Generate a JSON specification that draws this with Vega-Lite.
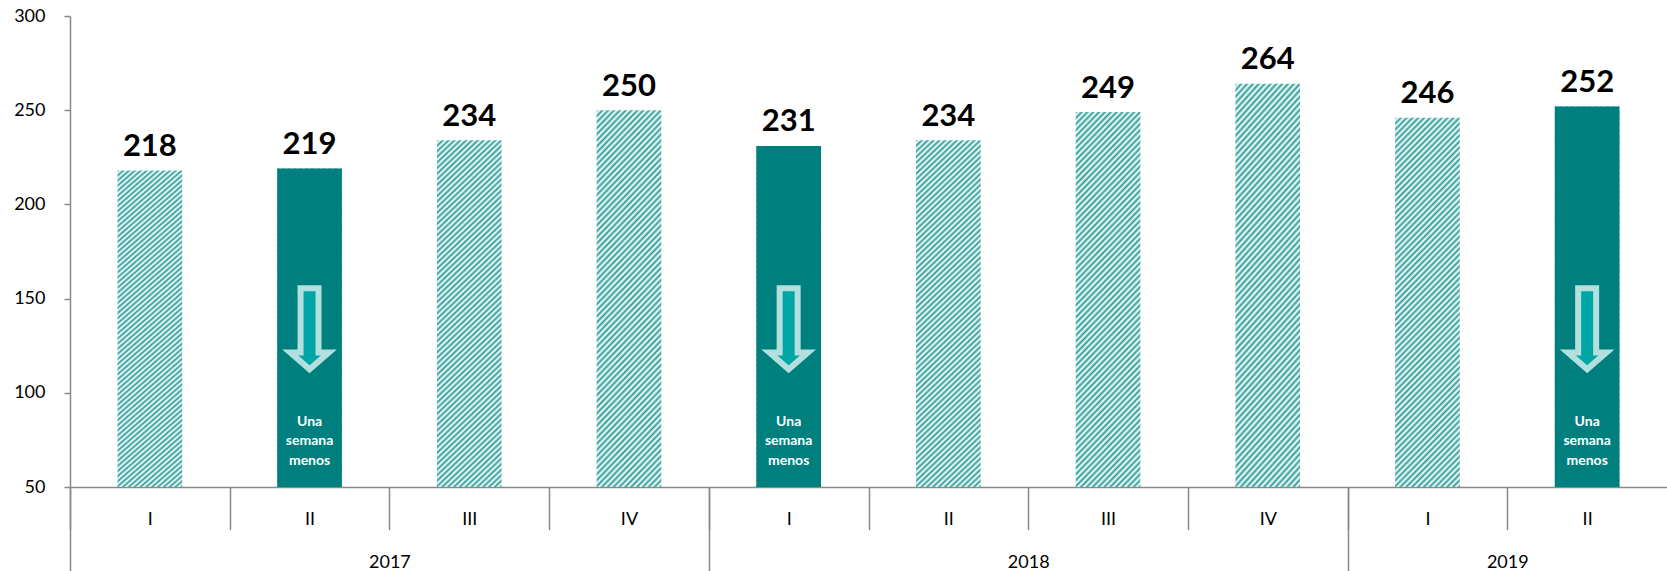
{
  "$schema": "https://vega.github.io/schema/vega-lite/v6.json",
  "width": 1597,
  "height": 471,
  "autosize": {"type": "none"},
  "padding": {"left": 70, "top": 16, "right": 0, "bottom": 84},
  "background": "#ffffff",
  "config": {
    "view": {"stroke": null},
    "font": "Lato",
    "axis": {
      "domainColor": "#898989",
      "tickColor": "#898989",
      "domainWidth": 1.5,
      "tickWidth": 1.5,
      "labelColor": "#000000",
      "labelFont": "Lato",
      "labelFontSize": 18,
      "grid": false,
      "title": null
    }
  },
  "data": {
    "values": [
      {"periodo": "2017-I", "v": 218, "menos": false},
      {"periodo": "2017-II", "v": 219, "menos": true},
      {"periodo": "2017-III", "v": 234, "menos": false},
      {"periodo": "2017-IV", "v": 250, "menos": false},
      {"periodo": "2018-I", "v": 231, "menos": true},
      {"periodo": "2018-II", "v": 234, "menos": false},
      {"periodo": "2018-III", "v": 249, "menos": false},
      {"periodo": "2018-IV", "v": 264, "menos": false},
      {"periodo": "2019-I", "v": 246, "menos": false},
      {"periodo": "2019-II", "v": 252, "menos": true}
    ]
  },
  "layer": [
    {
      "mark": {
        "type": "bar",
        "color": {
          "gradient": "linear",
          "x1": 0, "y1": 0, "x2": 0.278, "y2": 1.561,
          "stops": [
            {"offset": 0, "color": "#2a9d97"}, {"offset": 0.005, "color": "#fff"},
            {"offset": 0.01, "color": "#2a9d97"}, {"offset": 0.015, "color": "#fff"},
            {"offset": 0.02, "color": "#2a9d97"}, {"offset": 0.025, "color": "#fff"},
            {"offset": 0.03, "color": "#2a9d97"}, {"offset": 0.035, "color": "#fff"},
            {"offset": 0.04, "color": "#2a9d97"}, {"offset": 0.045, "color": "#fff"},
            {"offset": 0.05, "color": "#2a9d97"}, {"offset": 0.055, "color": "#fff"},
            {"offset": 0.06, "color": "#2a9d97"}, {"offset": 0.065, "color": "#fff"},
            {"offset": 0.07, "color": "#2a9d97"}, {"offset": 0.075, "color": "#fff"},
            {"offset": 0.08, "color": "#2a9d97"}, {"offset": 0.085, "color": "#fff"},
            {"offset": 0.09, "color": "#2a9d97"}, {"offset": 0.095, "color": "#fff"},
            {"offset": 0.10, "color": "#2a9d97"}, {"offset": 0.105, "color": "#fff"},
            {"offset": 0.11, "color": "#2a9d97"}, {"offset": 0.115, "color": "#fff"},
            {"offset": 0.12, "color": "#2a9d97"}, {"offset": 0.125, "color": "#fff"},
            {"offset": 0.13, "color": "#2a9d97"}, {"offset": 0.135, "color": "#fff"},
            {"offset": 0.14, "color": "#2a9d97"}, {"offset": 0.145, "color": "#fff"},
            {"offset": 0.15, "color": "#2a9d97"}, {"offset": 0.155, "color": "#fff"},
            {"offset": 0.16, "color": "#2a9d97"}, {"offset": 0.165, "color": "#fff"},
            {"offset": 0.17, "color": "#2a9d97"}, {"offset": 0.175, "color": "#fff"},
            {"offset": 0.18, "color": "#2a9d97"}, {"offset": 0.185, "color": "#fff"},
            {"offset": 0.19, "color": "#2a9d97"}, {"offset": 0.195, "color": "#fff"},
            {"offset": 0.20, "color": "#2a9d97"}, {"offset": 0.205, "color": "#fff"},
            {"offset": 0.21, "color": "#2a9d97"}, {"offset": 0.215, "color": "#fff"},
            {"offset": 0.22, "color": "#2a9d97"}, {"offset": 0.225, "color": "#fff"},
            {"offset": 0.23, "color": "#2a9d97"}, {"offset": 0.235, "color": "#fff"},
            {"offset": 0.24, "color": "#2a9d97"}, {"offset": 0.245, "color": "#fff"},
            {"offset": 0.25, "color": "#2a9d97"}, {"offset": 0.255, "color": "#fff"},
            {"offset": 0.26, "color": "#2a9d97"}, {"offset": 0.265, "color": "#fff"},
            {"offset": 0.27, "color": "#2a9d97"}, {"offset": 0.275, "color": "#fff"},
            {"offset": 0.28, "color": "#2a9d97"}, {"offset": 0.285, "color": "#fff"},
            {"offset": 0.29, "color": "#2a9d97"}, {"offset": 0.295, "color": "#fff"},
            {"offset": 0.30, "color": "#2a9d97"}, {"offset": 0.305, "color": "#fff"},
            {"offset": 0.31, "color": "#2a9d97"}, {"offset": 0.315, "color": "#fff"},
            {"offset": 0.32, "color": "#2a9d97"}, {"offset": 0.325, "color": "#fff"},
            {"offset": 0.33, "color": "#2a9d97"}, {"offset": 0.335, "color": "#fff"},
            {"offset": 0.34, "color": "#2a9d97"}, {"offset": 0.345, "color": "#fff"},
            {"offset": 0.35, "color": "#2a9d97"}, {"offset": 0.355, "color": "#fff"},
            {"offset": 0.36, "color": "#2a9d97"}, {"offset": 0.365, "color": "#fff"},
            {"offset": 0.37, "color": "#2a9d97"}, {"offset": 0.375, "color": "#fff"},
            {"offset": 0.38, "color": "#2a9d97"}, {"offset": 0.385, "color": "#fff"},
            {"offset": 0.39, "color": "#2a9d97"}, {"offset": 0.395, "color": "#fff"},
            {"offset": 0.40, "color": "#2a9d97"}, {"offset": 0.405, "color": "#fff"},
            {"offset": 0.41, "color": "#2a9d97"}, {"offset": 0.415, "color": "#fff"},
            {"offset": 0.42, "color": "#2a9d97"}, {"offset": 0.425, "color": "#fff"},
            {"offset": 0.43, "color": "#2a9d97"}, {"offset": 0.435, "color": "#fff"},
            {"offset": 0.44, "color": "#2a9d97"}, {"offset": 0.445, "color": "#fff"},
            {"offset": 0.45, "color": "#2a9d97"}, {"offset": 0.455, "color": "#fff"},
            {"offset": 0.46, "color": "#2a9d97"}, {"offset": 0.465, "color": "#fff"},
            {"offset": 0.47, "color": "#2a9d97"}, {"offset": 0.475, "color": "#fff"},
            {"offset": 0.48, "color": "#2a9d97"}, {"offset": 0.485, "color": "#fff"},
            {"offset": 0.49, "color": "#2a9d97"}, {"offset": 0.495, "color": "#fff"},
            {"offset": 0.50, "color": "#2a9d97"}, {"offset": 0.505, "color": "#fff"},
            {"offset": 0.51, "color": "#2a9d97"}, {"offset": 0.515, "color": "#fff"},
            {"offset": 0.52, "color": "#2a9d97"}, {"offset": 0.525, "color": "#fff"},
            {"offset": 0.53, "color": "#2a9d97"}, {"offset": 0.535, "color": "#fff"},
            {"offset": 0.54, "color": "#2a9d97"}, {"offset": 0.545, "color": "#fff"},
            {"offset": 0.55, "color": "#2a9d97"}, {"offset": 0.555, "color": "#fff"},
            {"offset": 0.56, "color": "#2a9d97"}, {"offset": 0.565, "color": "#fff"},
            {"offset": 0.57, "color": "#2a9d97"}, {"offset": 0.575, "color": "#fff"},
            {"offset": 0.58, "color": "#2a9d97"}, {"offset": 0.585, "color": "#fff"},
            {"offset": 0.59, "color": "#2a9d97"}, {"offset": 0.595, "color": "#fff"},
            {"offset": 0.60, "color": "#2a9d97"}, {"offset": 0.605, "color": "#fff"},
            {"offset": 0.61, "color": "#2a9d97"}, {"offset": 0.615, "color": "#fff"},
            {"offset": 0.62, "color": "#2a9d97"}, {"offset": 0.625, "color": "#fff"},
            {"offset": 0.63, "color": "#2a9d97"}, {"offset": 0.635, "color": "#fff"},
            {"offset": 0.64, "color": "#2a9d97"}, {"offset": 0.645, "color": "#fff"},
            {"offset": 0.65, "color": "#2a9d97"}, {"offset": 0.655, "color": "#fff"},
            {"offset": 0.66, "color": "#2a9d97"}, {"offset": 0.665, "color": "#fff"},
            {"offset": 0.67, "color": "#2a9d97"}, {"offset": 0.675, "color": "#fff"},
            {"offset": 0.68, "color": "#2a9d97"}, {"offset": 0.685, "color": "#fff"},
            {"offset": 0.69, "color": "#2a9d97"}, {"offset": 0.695, "color": "#fff"},
            {"offset": 0.70, "color": "#2a9d97"}, {"offset": 0.705, "color": "#fff"},
            {"offset": 0.71, "color": "#2a9d97"}, {"offset": 0.715, "color": "#fff"},
            {"offset": 0.72, "color": "#2a9d97"}, {"offset": 0.725, "color": "#fff"},
            {"offset": 0.73, "color": "#2a9d97"}, {"offset": 0.735, "color": "#fff"},
            {"offset": 0.74, "color": "#2a9d97"}, {"offset": 0.745, "color": "#fff"},
            {"offset": 0.75, "color": "#2a9d97"}
          ]
        }
      },
      "encoding": {
        "x": {
          "field": "periodo", "type": "nominal", "sort": null,
          "scale": {"paddingInner": 0.595, "paddingOuter": 0.2975},
          "axis": {
            "orient": "bottom",
            "tickSize": 42.6,
            "tickOffset": -79.85,
            "labelOffset": 79.85,
            "labelPadding": -19.3,
            "labelAngle": 0,
            "labelOverlap": false,
            "labelExpr": "split(datum.value, '-')[1]"
          }
        },
        "y": {
          "field": "v", "type": "quantitative",
          "scale": {"domain": [50, 300], "zero": false, "nice": false},
          "axis": {
            "values": [50, 100, 150, 200, 250, 300],
            "tickSize": 6,
            "labelPadding": 19
          }
        },
        "y2": {"datum": 50}
      }
    },
    {
      "mark": {"type": "bar", "color": "#007f7f"},
      "encoding": {
        "x": {"field": "periodo", "type": "nominal", "sort": null, "axis": null},
        "y": {"field": "v", "type": "quantitative"},
        "y2": {"datum": 50},
        "opacity": {"condition": {"test": "datum.menos", "value": 1}, "value": 0}
      }
    },
    {
      "mark": {"type": "text", "font": "Lato", "fontWeight": "bold", "fontSize": 31, "color": "#000000", "baseline": "alphabetic", "dy": -14.5},
      "encoding": {
        "x": {
          "field": "periodo", "type": "nominal", "sort": null,
          "axis": {
            "orient": "bottom",
            "domain": false,
            "tickSize": 84.3,
            "tickOffset": -79.85,
            "tickOpacity": {"condition": {"test": "test(/-I$/, datum.value)", "value": 1}, "value": 0},
            "labelPadding": -18,
            "labelAngle": 0,
            "labelOverlap": false,
            "labelExpr": "datum.value == '2017-III' ? '2017' : datum.value == '2018-III' ? '2018' : datum.value == '2019-II' ? '2019' : ''"
          }
        },
        "y": {"field": "v", "type": "quantitative"},
        "text": {"field": "v", "type": "quantitative"}
      }
    },
    {
      "mark": {
        "type": "point",
        "shape": "M-0.222,-1L0.222,-1L0.222,0.585L0.477,0.585L0,1L-0.477,0.585L-0.222,0.585Z",
        "size": 6561,
        "filled": true,
        "fill": "#00a6a6",
        "stroke": "#b3e0de",
        "strokeWidth": 6,
        "strokeJoin": "miter"
      },
      "encoding": {
        "x": {"field": "periodo", "type": "nominal", "sort": null, "axis": null},
        "y": {"datum": 134, "type": "quantitative"},
        "opacity": {"condition": {"test": "datum.menos", "value": 1}, "value": 0}
      }
    },
    {
      "mark": {"type": "text", "font": "Lato", "fontWeight": "bold", "fontSize": 14, "color": "#ffffff", "lineHeight": 19.5, "baseline": "middle", "dy": 93},
      "encoding": {
        "x": {"field": "periodo", "type": "nominal", "sort": null, "axis": null},
        "y": {"datum": 134, "type": "quantitative"},
        "text": {"value": ["Una", "semana", "menos"]},
        "opacity": {"condition": {"test": "datum.menos", "value": 1}, "value": 0}
      }
    }
  ],
  "resolve": {"axis": {"x": "independent"}}
}
